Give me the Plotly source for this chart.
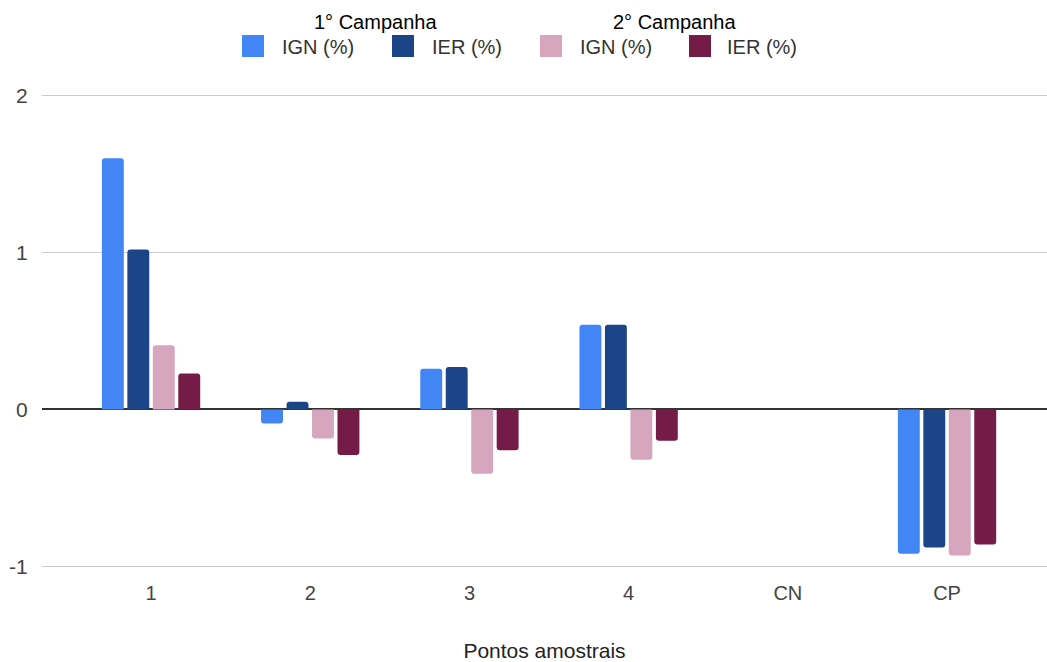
import plotly.graph_objects as go

# Sampling points and index values (%) per campaign
pontos = ["1", "2", "3", "4", "CN", "CP"]
ign_camp1 = [1.60, -0.09, 0.26, 0.54, 0.0, -0.92]
ier_camp1 = [1.02, 0.05, 0.27, 0.54, 0.0, -0.88]
ign_camp2 = [0.41, -0.185, -0.41, -0.32, 0.0, -0.93]
ier_camp2 = [0.23, -0.29, -0.26, -0.20, 0.0, -0.86]

campanhas = ["1° Campanha", "2° Campanha"]
nomes = ["IGN (%)", "IER (%)", "IGN (%)", "IER (%)"]
cores = ["#4285F4", "#1C4587", "#D5A6BD", "#741B47"]
series = [ign_camp1, ier_camp1, ign_camp2, ier_camp2]

W, H = 1047, 662
ML, MR, MT, MB = 42, 0, 94, 94
FONT = "Liberation Sans, Arial, sans-serif"

fig = go.Figure()
for nome, cor, vals in zip(nomes, cores, series):
    fig.add_trace(go.Bar(x=pontos, y=vals, name=nome, marker_color=cor,
                         marker_line_width=0, showlegend=False))


def px_x(px):
    return (px - ML) / (W - ML - MR)


def px_y(py):
    return (H - MB - py) / (H - MT - MB)


# Legend drawn as swatches + labels, grouped by campaign
swatch_x = [242, 392, 540, 689]
text_x = [280, 430, 578, 725]
title_x = [375, 674]
shapes = []
annotations = []
for sx, tx, nome, cor in zip(swatch_x, text_x, nomes, cores):
    shapes.append(dict(type="rect", xref="paper", yref="paper",
                       x0=px_x(sx), x1=px_x(sx + 22), y0=px_y(57), y1=px_y(35),
                       fillcolor=cor, line_width=0))
    annotations.append(dict(text=nome, xref="paper", yref="paper",
                            x=px_x(tx), y=px_y(46.5), xanchor="left", yanchor="middle",
                            showarrow=False, font=dict(size=20, color="#333333", family=FONT)))
for cx, titulo in zip(title_x, campanhas):
    annotations.append(dict(text=titulo, xref="paper", yref="paper",
                            x=px_x(cx), y=px_y(22), xanchor="center", yanchor="middle",
                            showarrow=False, font=dict(size=20, color="#000000", family=FONT)))

fig.update_layout(
    width=W, height=H,
    margin=dict(l=ML, r=MR, t=MT, b=MB, pad=0),
    paper_bgcolor="white", plot_bgcolor="white",
    barmode="group", bargap=0.36, bargroupgap=0.14, barcornerradius=3,
    font=dict(family=FONT, size=20, color="#444444"),
    shapes=shapes, annotations=annotations,
    xaxis=dict(
        type="category", range=[-0.685, 5.628],
        showgrid=False, showline=False, zeroline=False,
        ticks="outside", ticklen=7, tickcolor="rgba(0,0,0,0)",
        tickfont=dict(size=20, color="#444444"),
        title=dict(text="Pontos amostrais", standoff=40,
                   font=dict(size=21, color="#222222")),
    ),
    yaxis=dict(
        range=[-1.01, 2.01], tickvals=[-1, 0, 1, 2], ticktext=["-1", "0", "1", "2"],
        showgrid=True, gridcolor="#CCCCCC", gridwidth=1,
        zeroline=True, zerolinecolor="#333333", zerolinewidth=2,
        showline=False,
        ticks="outside", ticklen=9, tickcolor="rgba(0,0,0,0)",
        tickfont=dict(size=21, color="#444444"),
    ),
)

fig.write_html("out.html")
